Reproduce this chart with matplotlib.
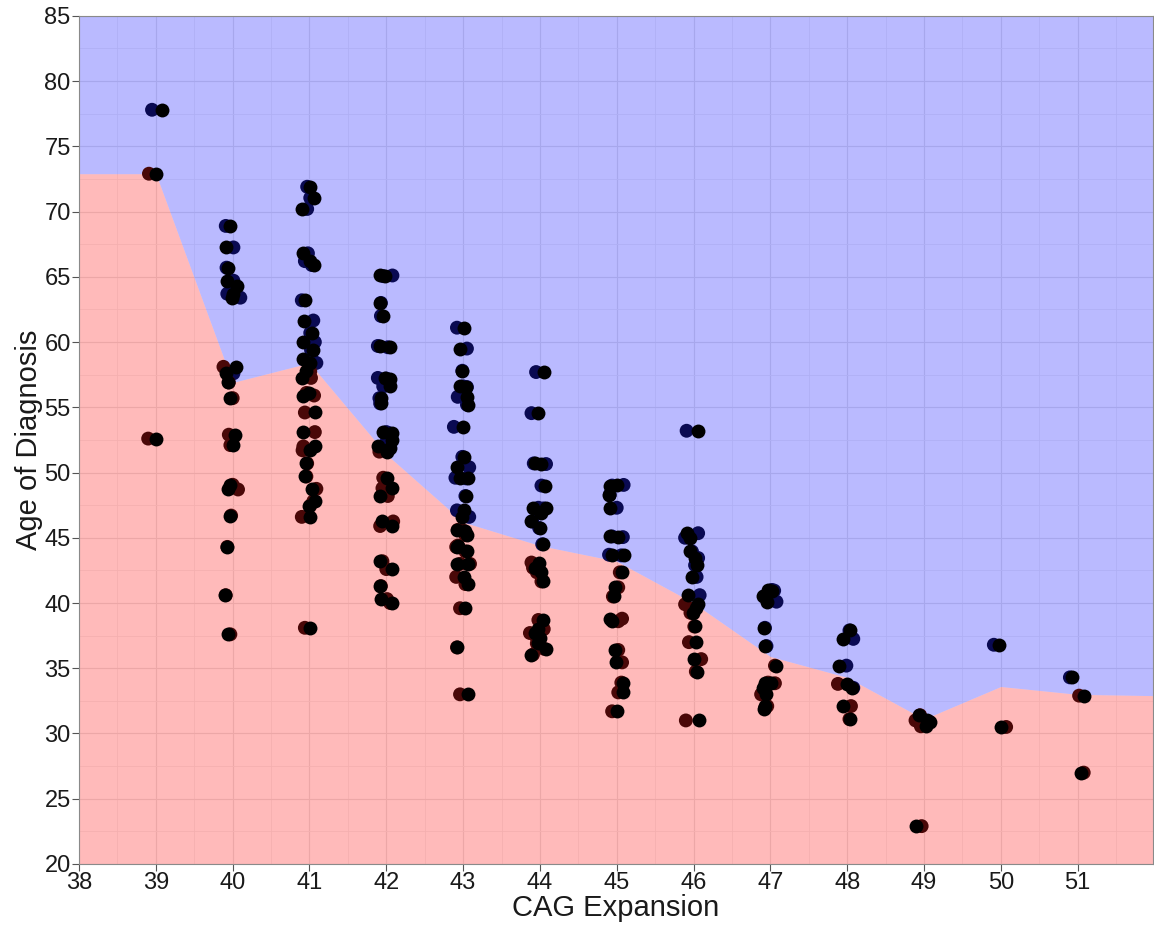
import numpy as np
import matplotlib
matplotlib.use('Agg')
import matplotlib.pyplot as plt

plt.rcParams['font.family'] = ['Liberation Sans', 'DejaVu Sans']

# decision boundary between the two predicted classes
bound_x = [38, 39, 40, 41, 42, 43, 44, 45, 46, 47, 48, 49, 50, 51, 52]
bound_y = [72.9, 72.9, 56.9, 58.4, 51.4, 46.2, 44.4, 43.2, 40.0, 35.9, 34.3, 31.1, 33.6, 33.0, 32.9]

# observations grouped by CAG repeat; each is drawn twice (black + class colour), jittered
cag_values = [39, 40, 41, 42, 43, 44, 45, 46, 47, 48, 49, 50, 51]
ages = [
    [77.8, 72.9, 52.6],
    [68.9, 67.25, 65.7, 64.7, 64.3, 63.7, 63.4, 58.1, 57.6, 56.9, 55.7, 52.9, 52.1, 49.06, 48.7,
     46.7, 44.3, 40.6, 37.6],
    [71.9, 71.05, 70.2, 66.8, 66.2, 65.9, 63.2, 61.65, 60.7, 60.0, 59.4, 58.7, 58.4, 57.75, 57.25,
     56.1, 55.9, 54.6, 53.1, 52.0, 51.7, 50.7, 49.7, 48.75, 47.8, 47.45, 46.6, 38.1],
    [65.1, 65.05, 63.0, 62.0, 59.7, 59.6, 57.25, 57.2, 56.6, 55.7, 55.3, 53.1, 53.0, 52.5, 52.0,
     51.9, 51.6, 49.6, 48.8, 48.2, 46.25, 45.9, 43.2, 42.6, 41.3, 40.3, 40.0],
    [61.1, 59.5, 57.8, 56.6, 56.55, 55.8, 55.2, 53.5, 51.2, 50.4, 49.6, 49.55, 48.2, 47.1, 46.6,
     45.6, 45.55, 45.2, 44.4, 44.3, 43.95, 43.0, 43.0, 42.0, 41.45, 39.6, 36.6, 33.0],
    [57.7, 54.55, 50.7, 50.65, 49.0, 47.3, 47.25, 46.9, 46.25, 45.75, 44.5, 43.1, 42.7, 42.35, 41.65,
     38.7, 38.0, 37.7, 37.3, 36.9, 36.5, 36.05],
    [49.0, 49.05, 48.3, 47.3, 45.1, 45.05, 43.7, 43.65, 42.35, 41.2, 40.5, 38.8, 38.6, 36.4, 35.45,
     33.9, 33.15, 31.7],
    [53.2, 45.35, 45.0, 43.95, 43.45, 42.9, 42.0, 40.6, 39.9, 39.6, 39.25, 38.2, 37.0, 35.7, 34.75, 31.0],
    [41.0, 40.95, 40.5, 40.1, 38.1, 36.7, 35.2, 33.9, 33.85, 33.5, 33.0, 32.1, 31.9],
    [37.9, 37.25, 35.2, 33.8, 33.5, 32.1, 31.1],
    [31.4, 31.0, 30.9, 30.55, 22.9],
    [36.8, 30.5],
    [34.3, 32.9, 27.0],
]
jit_black = [
    [0.08, 0.0, 0.0],
    [-0.03, -0.09, -0.06, -0.08, 0.05, 0.01, -0.01, 0.04, -0.09, -0.06, -0.03, 0.03, 0.0, -0.03, -0.06,
     -0.03, -0.07, -0.10, -0.06],
    [0.01, 0.06, -0.10, -0.08, 0.01, 0.06, -0.06, -0.07, 0.03, -0.09, 0.05, -0.09, 0.01, -0.04, -0.10,
     0.0, -0.08, 0.07, -0.09, 0.07, 0.01, -0.04, -0.06, 0.03, 0.07, 0.0, 0.01, 0.01],
    [-0.08, -0.02, -0.08, -0.04, -0.08, 0.05, -0.02, 0.05, 0.05, -0.07, -0.07, -0.04, 0.08, 0.08, -0.11,
     0.05, 0.01, 0.01, 0.08, -0.08, -0.05, 0.08, -0.08, 0.08, -0.08, -0.07, 0.07],
    [0.01, -0.04, -0.02, -0.04, 0.04, 0.05, 0.07, 0.0, 0.01, -0.08, -0.04, 0.07, 0.04, 0.01, -0.02,
     -0.08, 0.03, 0.05, -0.07, -0.08, 0.05, -0.08, 0.07, 0.01, 0.06, 0.03, -0.08, 0.07],
    [0.05, -0.02, -0.06, 0.02, 0.07, -0.09, 0.08, 0.02, -0.11, 0.0, 0.04, -0.01, -0.06, 0.02, 0.04,
     0.04, -0.02, -0.07, 0.0, -0.02, 0.08, -0.11],
    [-0.09, 0.01, -0.10, -0.09, -0.09, 0.02, -0.06, 0.09, 0.07, -0.02, -0.03, -0.09, -0.06, -0.02, -0.01,
     0.08, 0.08, 0.0],
    [0.06, -0.09, -0.04, -0.04, 0.02, 0.04, -0.02, -0.07, 0.06, 0.03, -0.01, 0.02, 0.03, 0.0, 0.05, 0.07],
    [-0.03, 0.02, -0.10, -0.04, -0.08, -0.07, 0.08, -0.07, 0.01, -0.09, -0.05, -0.07, -0.08],
    [0.04, -0.06, -0.11, 0.0, 0.06, -0.05, 0.04],
    [-0.06, 0.04, 0.08, 0.03, -0.10],
    [-0.02, 0.0],
    [-0.07, 0.09, 0.04],
]
jit_colour = [
    [-0.05, -0.09, -0.10],
    [-0.09, 0.01, -0.08, 0.01, -0.02, -0.07, 0.10, -0.12, 0.01, -0.05, 0.0, -0.05, -0.03, 0.0, 0.07,
     -0.02, -0.07, -0.09, -0.03],
    [-0.03, 0.01, -0.03, -0.02, -0.06, 0.03, -0.10, 0.05, 0.01, 0.07, 0.02, 0.03, 0.09, 0.01, 0.02,
     -0.04, 0.06, -0.06, 0.07, -0.08, -0.09, -0.03, -0.04, 0.09, 0.05, 0.01, -0.10, -0.06],
    [0.08, -0.04, -0.07, -0.07, -0.11, 0.02, -0.11, 0.0, -0.04, -0.09, -0.08, 0.0, 0.04, 0.01, -0.05,
     0.02, -0.09, -0.04, -0.05, 0.02, 0.09, -0.08, -0.05, 0.0, -0.07, 0.01, 0.05],
    [-0.08, 0.05, -0.01, 0.0, 0.05, -0.07, 0.05, -0.12, -0.01, 0.08, -0.10, 0.04, 0.03, -0.08, 0.08,
     -0.07, 0.0, 0.03, -0.07, -0.09, 0.03, -0.04, 0.09, -0.09, 0.03, -0.04, -0.08, -0.04],
    [-0.05, -0.11, -0.08, 0.08, 0.02, -0.02, 0.05, 0.0, -0.10, -0.01, 0.03, -0.11, -0.09, -0.04, 0.02,
     -0.02, 0.05, -0.13, -0.04, -0.04, 0.05, -0.09],
    [-0.06, 0.09, -0.09, 0.0, -0.06, 0.08, -0.10, 0.06, 0.04, 0.02, -0.05, 0.07, 0.02, 0.02, 0.07,
     0.06, 0.02, -0.06],
    [-0.09, 0.06, -0.11, -0.02, 0.06, 0.02, 0.04, 0.08, -0.11, 0.01, -0.04, 0.01, -0.06, 0.10, 0.03, -0.10],
    [0.02, 0.05, -0.08, 0.08, -0.07, -0.05, 0.06, -0.03, 0.06, -0.08, -0.12, -0.04, -0.07],
    [0.03, 0.08, -0.01, -0.12, 0.08, 0.05, 0.03],
    [-0.05, -0.11, 0.07, -0.04, -0.03],
    [-0.09, 0.07],
    [-0.10, 0.02, 0.08],
]
# class of each observation: b = above boundary class, r = below
classes = ['brr', 'bbbbbbbrbrrrrrrrrrr', 'bbbbbbbbbbbbbrrrrrrrrrrrrrrr', 'bbbbbbbbbbbbbbbbrrrrrrrrrrr',
           'bbbbbbbbbbbbbbbrrrrrrrrrrrrr', 'bbbbbbbbbbbrrrrrrrrrrr', 'bbbbbbbbrrrrrrrrrr',
           'bbbbbbbbrrrrrrrr', 'bbbbbbrrrrrrr', 'bbbrbrr', 'rrrrr', 'br', 'brr']

fig = plt.figure(figsize=(11.54, 9.31), dpi=100)
ax = fig.add_axes([0.0685, 0.072, 0.9305, 0.911])

ax.fill_between(bound_x, 20, bound_y, color='red', alpha=0.27, linewidth=0, zorder=1)
ax.fill_between(bound_x, bound_y, 85, color='blue', alpha=0.27, linewidth=0, zorder=1)

cls_col = {'r': '#4a0808', 'b': '#0a0a52'}
for c, ys, jb, jc, cl in zip(cag_values, ages, jit_black, jit_colour, classes):
    ys = np.array(ys)
    cols = [cls_col[k] for k in cl]
    ax.scatter(c + np.array(jc), ys, s=100, c=cols, linewidths=0, zorder=3)
    ax.scatter(c + np.array(jb), ys, s=100, c='black', linewidths=0, zorder=4)

ax.set_xlim(38, 51.98)
ax.set_ylim(20, 85)
ax.set_xticks(range(38, 52))
ax.set_yticks(range(20, 86, 5))
ax.set_xticks(np.arange(38.5, 52, 1), minor=True)
ax.set_yticks(np.arange(22.5, 85, 5), minor=True)
ax.grid(True, which='major', color='#e6e6e6', linewidth=0.8, zorder=0)
ax.grid(True, which='minor', color='#f1f1f1', linewidth=0.6, zorder=0)
ax.set_axisbelow(True)
ax.tick_params(which='minor', length=0)
ax.tick_params(which='major', labelsize=17, length=5, color='#555555', labelcolor='#1a1a1a', pad=1)
for sp in ax.spines.values():
    sp.set_color('#8a8a8a')
    sp.set_linewidth(0.8)

ax.set_xlabel('CAG Expansion', fontsize=21, color='#1a1a1a', labelpad=0)
ax.set_ylabel('Age of Diagnosis', fontsize=21, color='#1a1a1a', labelpad=1)

fig.savefig('out.png', dpi=100)
